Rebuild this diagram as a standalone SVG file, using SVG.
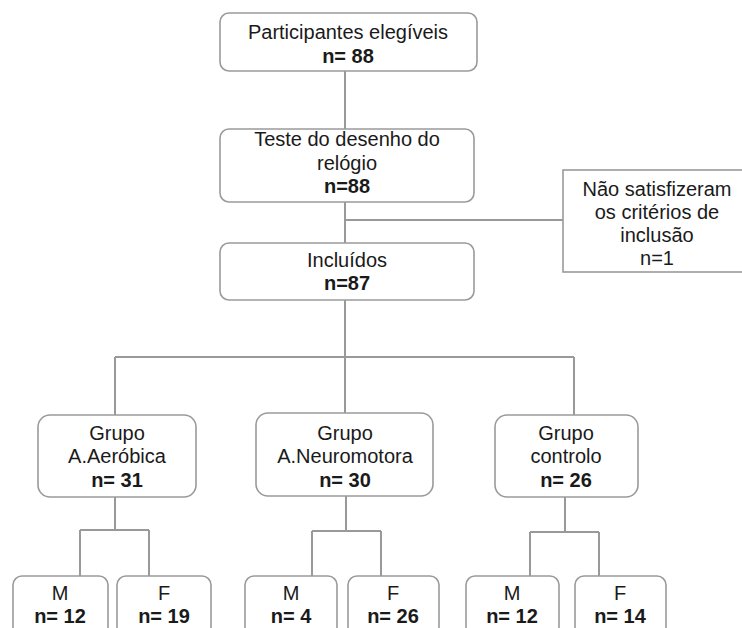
<svg xmlns="http://www.w3.org/2000/svg" width="742" height="628" viewBox="0 0 742 628">
<style>
.box{fill:#fff;stroke:#9a9a9a;stroke-width:1.6}
.ln{fill:none;stroke:#999;stroke-width:2}
text{font-family:"Liberation Sans",Arial,sans-serif;font-size:20px;fill:#1a1a1a;text-anchor:middle}
.b{font-weight:bold}
</style>
<rect width="742" height="628" fill="#fff"/>
<g id="connectors">
<path class="ln" d="M345 71V129M345 202V243M345 220H563M345 300V357M115 357H574M115 357V415M345 357V413M574 357V415"/>
<path class="ln" d="M115 497V530M80 530H149M80 530V576M149 530V576"/>
<path class="ln" d="M346 496V531M312 531H381M312 531V576M381 531V576"/>
<path class="ln" d="M565 497V532M530 532H599M530 532V576M599 532V576"/>
</g>
<g id="n1"><rect class="box" x="220" y="13" width="257" height="58" rx="9"/><text x="348" y="39">Participantes elegíveis</text><text class="b" x="348" y="63">n= 88</text></g>
<g id="n2"><rect class="box" x="220" y="129" width="254" height="73" rx="9"/><text x="347" y="146">Teste do desenho do</text><text x="347" y="170">relógio</text><text class="b" x="347" y="193">n=88</text></g>
<g id="n3"><rect class="box" x="563" y="170" width="190" height="102" rx="0"/><text x="657" y="196">Não satisfizeram</text><text x="657" y="219">os critérios de</text><text x="657" y="242">inclusão</text><text x="657" y="265">n=1</text></g>
<g id="n4"><rect class="box" x="220" y="243" width="254" height="57" rx="9"/><text x="347" y="267">Incluídos</text><text class="b" x="347" y="290">n=87</text></g>
<g id="g1"><rect class="box" x="38" y="415" width="158" height="82" rx="12"/><text x="117" y="440">Grupo</text><text x="117" y="463">A.Aeróbica</text><text class="b" x="117" y="487">n= 31</text></g>
<g id="g2"><rect class="box" x="256" y="413" width="177" height="83" rx="12"/><text x="345" y="440">Grupo</text><text x="345" y="463">A.Neuromotora</text><text class="b" x="345" y="487">n= 30</text></g>
<g id="g3"><rect class="box" x="495" y="415" width="143" height="82" rx="12"/><text x="566" y="440">Grupo</text><text x="566" y="463">controlo</text><text class="b" x="566" y="487">n= 26</text></g>
<g id="m1"><rect class="box" x="13" y="576" width="95" height="60" rx="9"/><text x="60" y="600">M</text><text class="b" x="60" y="623">n= 12</text></g>
<g id="f1"><rect class="box" x="117" y="576" width="94" height="60" rx="9"/><text x="164" y="600">F</text><text class="b" x="164" y="623">n= 19</text></g>
<g id="m2"><rect class="box" x="245" y="576" width="92" height="60" rx="9"/><text x="291" y="600">M</text><text class="b" x="291" y="623">n= 4</text></g>
<g id="f2"><rect class="box" x="348" y="576" width="91" height="60" rx="9"/><text x="393" y="600">F</text><text class="b" x="393" y="623">n= 26</text></g>
<g id="m3"><rect class="box" x="466" y="576" width="93" height="60" rx="9"/><text x="512" y="600">M</text><text class="b" x="512" y="623">n= 12</text></g>
<g id="f3"><rect class="box" x="575" y="576" width="91" height="60" rx="9"/><text x="620" y="600">F</text><text class="b" x="620" y="623">n= 14</text></g>
</svg>
